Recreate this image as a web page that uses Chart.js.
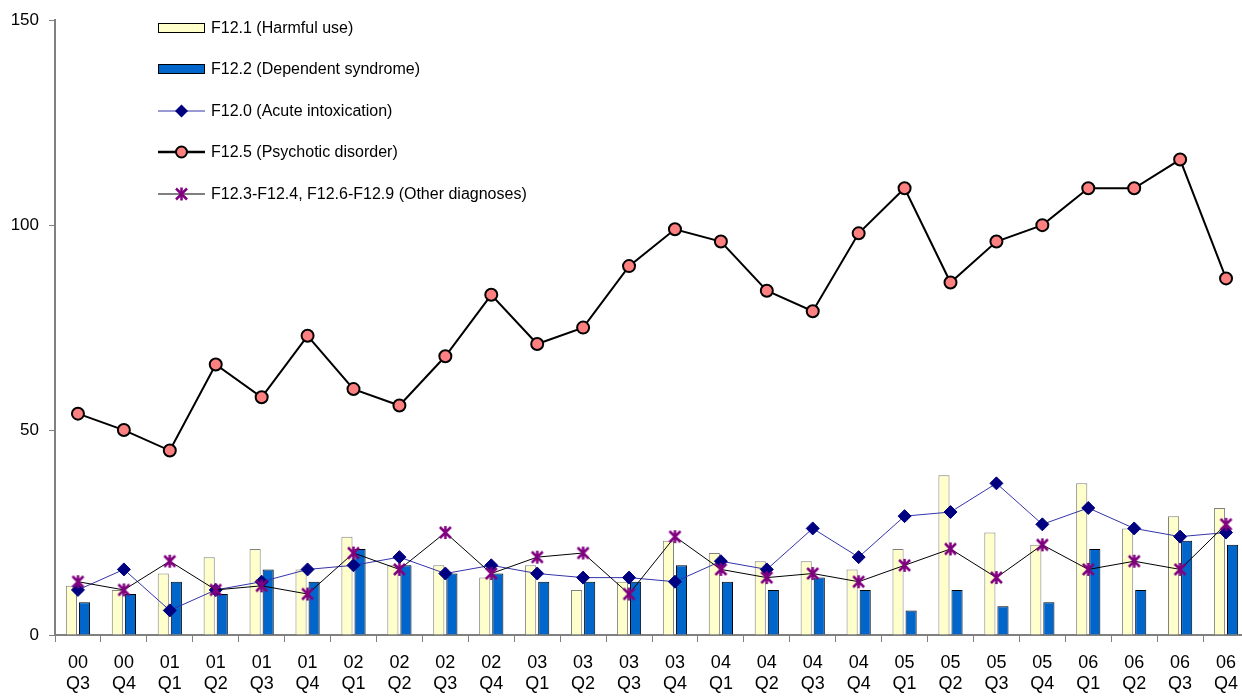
<!DOCTYPE html>
<html>
<head>
<meta charset="utf-8">
<script src="https://cdn.jsdelivr.net/npm/chart.js@4.4.1/dist/chart.umd.min.js"></script>
<style>
html, body { margin: 0; padding: 0; background: #fff; overflow: hidden; }
#wrap { position: relative; width: 1257px; height: 697px; }
#legend { position: absolute; left: 158px; top: 7px; font: 16px "Liberation Sans", Arial, sans-serif; color: #000; }
#legend .row { height: 41.5px; display: flex; align-items: center; white-space: nowrap; }
#legend svg { width: 47px; height: 16px; margin-right: 6px; flex: none; }
</style>
</head>
<body>
<div id="wrap">
  <canvas id="chart" width="1257" height="697"></canvas>
  <div id="legend"></div>
</div>
<script>
var years = ['00','00','01','01','01','01','02','02','02','02','03','03','03','03','04','04','04','04','05','05','05','05','06','06','06','06'];
var quarters = ['Q3','Q4','Q1','Q2','Q3','Q4','Q1','Q2','Q3','Q4','Q1','Q2','Q3','Q4','Q1','Q2','Q3','Q4','Q1','Q2','Q3','Q4','Q1','Q2','Q3','Q4'];

var harmful   = [12,11,15,19,21,16,24,17,17,14,17,11,13,23,20,18,18,16,21,39,25,22,37,26,29,31];
var dependent = [8,10,13,10,16,13,21,17,15,15,13,13,13,17,13,11,14,11,6,11,7,8,21,11,23,22];
var acute     = [11,16,6,11,13,16,17,19,15,17,15,14,14,13,18,16,26,19,29,30,37,27,31,26,24,25];
var psychotic = [54,50,45,66,58,73,60,56,68,83,71,75,90,99,96,84,79,98,109,86,96,100,109,109,116,87];
var other     = [13,11,18,11,12,10,20,16,25,15,19,20,10,24,16,14,15,13,17,21,14,22,16,18,16,27];

var yTicks = [0, 50, 100, 150];

var names = [
  'F12.1 (Harmful use)',
  'F12.2 (Dependent syndrome)',
  'F12.0 (Acute intoxication)',
  'F12.5 (Psychotic disorder)',
  'F12.3-F12.4, F12.6-F12.9 (Other diagnoses)'
];

var labels = years.map(function(y, i){ return [y, quarters[i]]; });

// asterisk marker (X plus vertical bar)
var star = document.createElement('canvas');
star.width = 15; star.height = 15;
(function(){
  var c = star.getContext('2d');
  c.strokeStyle = '#800080';
  c.lineWidth = 2.5;
  c.beginPath();
  c.moveTo(2, 2); c.lineTo(13, 13);
  c.moveTo(13, 2); c.lineTo(2, 13);
  c.moveTo(7.5, 1); c.lineTo(7.5, 14);
  c.stroke();
})();

Chart.defaults.font.family = '"Liberation Sans", Arial, sans-serif';
Chart.defaults.color = '#000';

var chart = new Chart(document.getElementById('chart'), {
  type: 'bar',
  data: {
    labels: labels,
    datasets: [{
      type: 'bar', label: names[0], data: harmful,
      backgroundColor: '#FFFFCC', borderColor: '#808080', borderWidth: 1,
      categoryPercentage: 0.57, barPercentage: 0.85, order: 4
    }, {
      type: 'bar', label: names[1], data: dependent,
      backgroundColor: '#0066CC', borderColor: '#000', borderWidth: 1,
      categoryPercentage: 0.57, barPercentage: 0.85, order: 5
    }, {
      type: 'line', label: names[2], data: acute,
      borderColor: '#3333AA', borderWidth: 1,
      pointStyle: 'rectRot', pointRadius: 6.5,
      pointBackgroundColor: '#000080', pointBorderColor: '#000080', pointBorderWidth: 1,
      order: 3
    }, {
      type: 'line', label: names[3], data: psychotic,
      borderColor: '#000', borderWidth: 2,
      pointStyle: 'circle', pointRadius: 6,
      pointBackgroundColor: '#FF8080', pointBorderColor: '#000', pointBorderWidth: 2,
      order: 1
    }, {
      type: 'line', label: names[4], data: other,
      borderColor: '#000', borderWidth: 1,
      pointStyle: star, pointRadius: 7,
      order: 2
    }]
  },
  options: {
    responsive: false,
    animation: false,
    layout: { padding: { top: 20, right: 0, bottom: 2, left: 0 } },
    plugins: { legend: { display: false }, tooltip: { enabled: false } },
    scales: {
      x: {
        afterFit: function(s){ s.height = 60; },
        grid: { display: true, drawOnChartArea: false, offset: true, tickLength: 7, color: '#808080' },
        border: { color: '#808080', width: 2 },
        ticks: { font: { size: 18 }, padding: 10, maxRotation: 0, autoSkip: false }
      },
      y: {
        min: 0, max: 150,
        afterBuildTicks: function(s){ s.ticks = yTicks.map(function(v){ return { value: v }; }); },
        afterFit: function(s){ s.width = 55; },
        grid: { display: true, drawOnChartArea: false, tickLength: 6, color: '#808080' },
        border: { color: '#808080', width: 2 },
        ticks: { font: { size: 17 }, padding: 10 }
      }
    }
  }
});

// legend
var sym = [
  '<rect x="0.5" y="3.5" width="46" height="9" fill="#FFFFCC" stroke="#000" stroke-width="1"/>',
  '<rect x="0.5" y="3.5" width="46" height="9" fill="#0066CC" stroke="#000" stroke-width="1"/>',
  '<line x1="0" y1="8" x2="47" y2="8" stroke="#3333AA" stroke-width="1"/><polygon points="23.5,1.5 30,8 23.5,14.5 17,8" fill="#000080"/>',
  '<line x1="0" y1="8" x2="47" y2="8" stroke="#000" stroke-width="2.5"/><circle cx="23.5" cy="8" r="5.5" fill="#FF8080" stroke="#000" stroke-width="2"/>',
  '<line x1="0" y1="8" x2="47" y2="8" stroke="#000" stroke-width="1"/><g stroke="#800080" stroke-width="2.5"><line x1="18" y1="2.5" x2="29" y2="13.5"/><line x1="29" y1="2.5" x2="18" y2="13.5"/><line x1="23.5" y1="1.5" x2="23.5" y2="14.5"/></g>'
];
var html = '';
names.forEach(function(n, i){
  html += '<div class="row"><svg viewBox="0 0 47 16">' + sym[i] + '</svg><span>' + n + '</span></div>';
});
document.getElementById('legend').innerHTML = html;
</script>
</body>
</html>
